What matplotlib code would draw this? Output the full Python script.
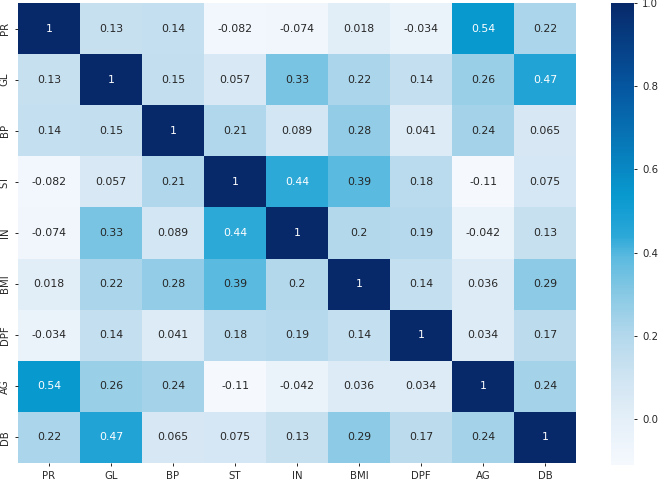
import numpy as np
import pandas as pd
import matplotlib
matplotlib.use("Agg")
import matplotlib.pyplot as plt
import seaborn as sns
from matplotlib.colors import LinearSegmentedColormap

labels = ["PR", "GL", "BP", "ST", "IN", "BMI", "DPF", "AG", "DB"]

row_PR = [1, 0.13, 0.14, -0.082, -0.074, 0.018, -0.034, 0.54, 0.22]
row_GL = [0.13, 1, 0.15, 0.057, 0.33, 0.22, 0.14, 0.26, 0.47]
row_BP = [0.14, 0.15, 1, 0.21, 0.089, 0.28, 0.041, 0.24, 0.065]
row_ST = [-0.082, 0.057, 0.21, 1, 0.44, 0.39, 0.18, -0.11, 0.075]
row_IN = [-0.074, 0.33, 0.089, 0.44, 1, 0.2, 0.19, -0.042, 0.13]
row_BMI = [0.018, 0.22, 0.28, 0.39, 0.2, 1, 0.14, 0.036, 0.29]
row_DPF = [-0.034, 0.14, 0.041, 0.18, 0.19, 0.14, 1, 0.034, 0.17]
row_AG = [0.54, 0.26, 0.24, -0.11, -0.042, 0.036, 0.034, 1, 0.24]
row_DB = [0.22, 0.47, 0.065, 0.075, 0.13, 0.29, 0.17, 0.24, 1]

corr = pd.DataFrame([row_PR, row_GL, row_BP, row_ST, row_IN, row_BMI,
                     row_DPF, row_AG, row_DB], index=labels, columns=labels)

vmin, vmax = corr.values.min(), corr.values.max()
anchors = [(-0.11, "#f5f9fe"), (0.0, "#e4eff8"), (0.1, "#cfe4f2"),
           (0.2, "#b3d8ec"), (0.3, "#88c9e4"), (0.39, "#5bbae0"),
           (0.44, "#2ca8d8"), (0.5, "#159ed3"), (0.54, "#0899cf"),
           (0.6, "#0888c4"), (0.8, "#0556a0"), (1.0, "#07296a")]
cmap = LinearSegmentedColormap.from_list(
    "custom", [((v - vmin) / (vmax - vmin), c) for v, c in anchors])

W, H = 659, 482
fig = plt.figure(figsize=(W / 100, H / 100), dpi=100)
ax = fig.add_axes([18 / W, 1 - 463 / H, 558 / W, 460 / H])
cax = fig.add_axes([611 / W, 1 - 465 / H, 23 / W, 462 / H])

sns.heatmap(corr, ax=ax, cbar_ax=cax, cmap=cmap, annot=True,
            annot_kws={"size": 7.8})

ax.tick_params(labelsize=7.3, length=2.5, width=0.7, colors="#262626")
plt.setp(ax.get_yticklabels(), rotation=90, va="center")
cax.tick_params(labelsize=7.3, length=2.5, width=0.7, colors="#262626")
cax.set_yticks([0.0, 0.2, 0.4, 0.6, 0.8, 1.0])

fig.savefig("out.png", dpi=100)
